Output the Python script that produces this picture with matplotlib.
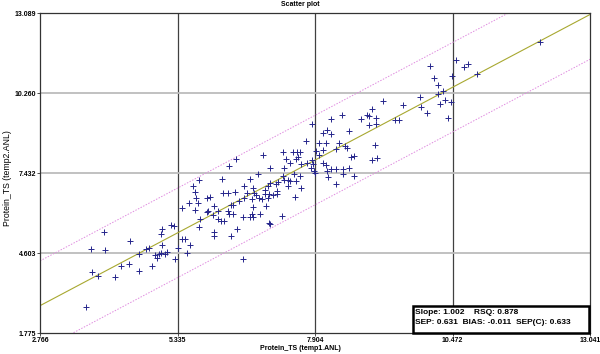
import numpy as np
import matplotlib
matplotlib.use("Agg")
import matplotlib.pyplot as plt
from matplotlib.patches import Rectangle

# reference values (temp1.ANL) and predicted values (temp2.ANL)
x_ref = [3.63, 3.73, 3.84, 3.97, 3.72, 3.98, 4.16, 4.27, 4.44, 4.43,
         4.62, 4.61, 4.74, 4.81, 4.85, 4.96, 4.92, 4.98, 5.03, 5.10,
         5.13, 5.04, 5.05, 5.02, 5.22, 5.27, 5.29, 5.34, 5.41, 5.48,
         5.56, 5.51, 5.41, 5.63, 5.67, 5.68, 5.71, 5.67, 5.75, 5.73,
         5.88, 5.94, 5.90, 6.02, 6.02, 6.02, 6.09, 6.15, 6.21, 6.27,
         6.34, 6.37, 6.33, 6.27, 6.30, 6.38, 6.44, 6.55, 6.57, 6.55,
         6.64, 6.68, 6.76, 6.80, 6.73, 6.88, 6.91, 6.98, 6.96, 6.96,
         7.02, 7.05, 7.04, 7.07, 7.11, 7.18, 7.20, 7.20, 7.29, 7.32,
         7.39, 7.44, 7.39, 7.53, 6.43, 6.30, 5.74, 6.17, 6.69, 6.84,
         6.19, 6.41, 5.54, 6.48, 6.57, 5.88, 5.99, 6.10, 6.74,
         8.20, 7.85, 8.13, 8.05, 8.20, 7.74, 7.98, 8.11, 7.93, 8.05,
         7.97, 7.31, 7.49, 7.56, 7.62, 6.93, 7.36, 7.44, 7.54, 7.59,
         7.65, 7.76, 7.86, 7.85, 8.05, 8.10, 7.32, 7.06, 7.83, 7.89,
         7.91, 8.13, 8.21, 8.30, 7.30, 7.62, 7.51, 8.14, 7.55, 7.21,
         7.06, 6.75, 7.65, 6.85, 7.03, 6.75, 6.73,
         9.17, 9.55, 8.97, 8.41, 8.87, 8.92, 9.04, 8.77, 9.05, 8.91,
         9.39, 9.47, 8.54, 8.35, 8.46, 8.30, 8.51, 9.03, 8.57, 8.64,
         8.96, 9.07, 8.43, 8.54, 8.43, 8.64, 8.30,
         10.53, 10.06, 10.68, 10.76, 10.93, 10.13, 10.47, 10.21, 10.30, 10.20,
         9.86, 10.34, 10.23, 10.44, 9.88, 10.00, 10.39, 12.11]
y_pred = [2.71, 3.93, 3.79, 5.35, 4.74, 4.71, 3.77, 4.17, 5.03, 4.22,
          3.98, 4.58, 4.77, 4.78, 4.16, 4.42, 4.56, 4.58, 4.62, 4.58,
          4.65, 4.88, 5.45, 5.27, 5.60, 5.58, 4.40, 4.78, 5.10, 5.10,
          4.91, 4.61, 6.19, 6.98, 6.76, 6.56, 6.37, 6.13, 5.80, 5.54,
          6.56, 6.58, 6.09, 6.26, 5.36, 5.20, 5.82, 5.73, 5.76, 6.75,
          6.32, 6.30, 5.20, 6.09, 6.00, 5.98, 5.45, 4.40, 6.99, 5.90,
          6.72, 5.89, 6.75, 6.66, 6.54, 5.98, 6.51, 6.26, 6.83, 6.69,
          6.98, 6.71, 5.68, 5.65, 6.67, 7.05, 6.81, 6.70, 5.92, 7.18,
          7.18, 7.16, 6.97, 6.59, 7.95, 7.69, 7.18, 7.23, 7.24, 7.40,
          6.73, 6.77, 6.37, 6.45, 6.56, 6.06, 5.95, 6.09, 5.89,
          9.34, 9.17, 8.96, 8.85, 8.81, 8.57, 8.50, 8.51, 8.23, 8.26,
          8.08, 8.17, 8.18, 8.17, 8.18, 8.07, 7.95, 7.81, 7.93, 8.02,
          7.77, 7.80, 7.76, 7.90, 7.79, 7.71, 7.63, 7.61, 7.61, 7.52,
          7.45, 7.51, 7.59, 7.60, 7.35, 7.33, 7.41, 7.29, 7.16, 7.12,
          7.08, 6.90, 6.90, 6.57, 6.57, 6.23, 6.00,
          9.98, 9.84, 9.69, 9.51, 9.48, 9.45, 9.39, 9.34, 9.18, 9.13,
          9.30, 9.30, 8.93, 8.49, 8.41, 8.30, 8.32, 8.45, 8.01, 8.05,
          7.91, 7.96, 7.59, 7.62, 7.41, 7.32, 7.06,
          11.43, 11.24, 11.20, 11.29, 10.96, 10.80, 10.86, 10.57, 10.33, 10.22,
          10.14, 10.02, 9.88, 9.95, 9.79, 9.57, 9.39, 12.06]

x_ticks = [2.766, 5.335, 7.904, 10.472, 13.041]
y_ticks = [1.775, 4.603, 7.432, 10.260, 13.089]

slope = 1.002
intercept = -0.02
rsq = 0.878
sep = 0.631
bias = -0.011
sep_c = 0.633
band = 2.5 * sep_c

plt.rcParams['font.family'] = ['Liberation Sans', 'DejaVu Sans']

fig = plt.figure(figsize=(6, 3.54), dpi=100)
ax = fig.add_axes([0.0667, 0.0585, 0.9167, 0.9039])
ax.set_xlim(x_ticks[0], x_ticks[-1])
ax.set_ylim(y_ticks[0], y_ticks[-1])

# grid lines
for xv in x_ticks[1:-1]:
    ax.axvline(xv, color='#404040', lw=0.9, zorder=1)
for yv in y_ticks[1:-1]:
    ax.axhline(yv, color='#bcbcbc', lw=1.3, zorder=1)

# regression line and +/- band
xx = np.array([x_ticks[0], x_ticks[-1]])
ax.plot(xx, slope * xx + intercept, color='#a8a830', lw=0.8, zorder=2)
ax.plot(xx, slope * xx + intercept + band, color='#e08ce0', lw=0.7,
        ls=(0, (1.5, 1.5)), zorder=2)
ax.plot(xx, slope * xx + intercept - band, color='#e08ce0', lw=0.7,
        ls=(0, (1.5, 1.5)), zorder=2)

ax.plot(x_ref, y_pred, ls='none', marker='+', ms=3.8, mew=0.7,
        color='#26268c', zorder=3)

ax.set_xticks(x_ticks)
ax.set_yticks(y_ticks)
ax.set_xticklabels([f"{v:.3f}" for v in x_ticks], fontsize=5, fontweight='bold')
ax.set_yticklabels([f"{v:.3f}" for v in y_ticks], fontsize=5, fontweight='bold')
ax.tick_params(length=2, width=0.6, pad=1, color='#333333')
for s in ax.spines.values():
    s.set_color('#333333')
    s.set_linewidth(0.9)

fig.text(0.5, 1 - 5 / 354, "Scatter plot", ha='center', va='center',
         fontsize=5, fontweight='bold')
fig.text(0.5, 1 - 349 / 354, "Protein_TS (temp1.ANL)", ha='center', va='center',
         fontsize=5, fontweight='bold')
fig.text(7.5 / 600, 1 - 178 / 354, "Protein_TS (temp2.ANL)", ha='center',
         va='center', rotation=90, fontsize=6.3)

# statistics box
box = Rectangle((413 / 600, 1 - 332.5 / 354), 175.5 / 600, 27 / 354,
                transform=fig.transFigure, facecolor='white', edgecolor='black',
                lw=1.8, zorder=5)
fig.patches.append(box)
fig.text(415 / 600, 1 - 312 / 354,
         f"Slope: {slope:.3f}    RSQ: {rsq:.3f}", ha='left', va='center',
         fontsize=6, fontweight='bold', zorder=6)
fig.text(415 / 600, 1 - 322 / 354,
         f"SEP: {sep:.3f}  BIAS: {bias:.3f}  SEP(C): {sep_c:.3f}", ha='left',
         va='center', fontsize=6, fontweight='bold', zorder=6)

fig.savefig("out.png", dpi=100)
